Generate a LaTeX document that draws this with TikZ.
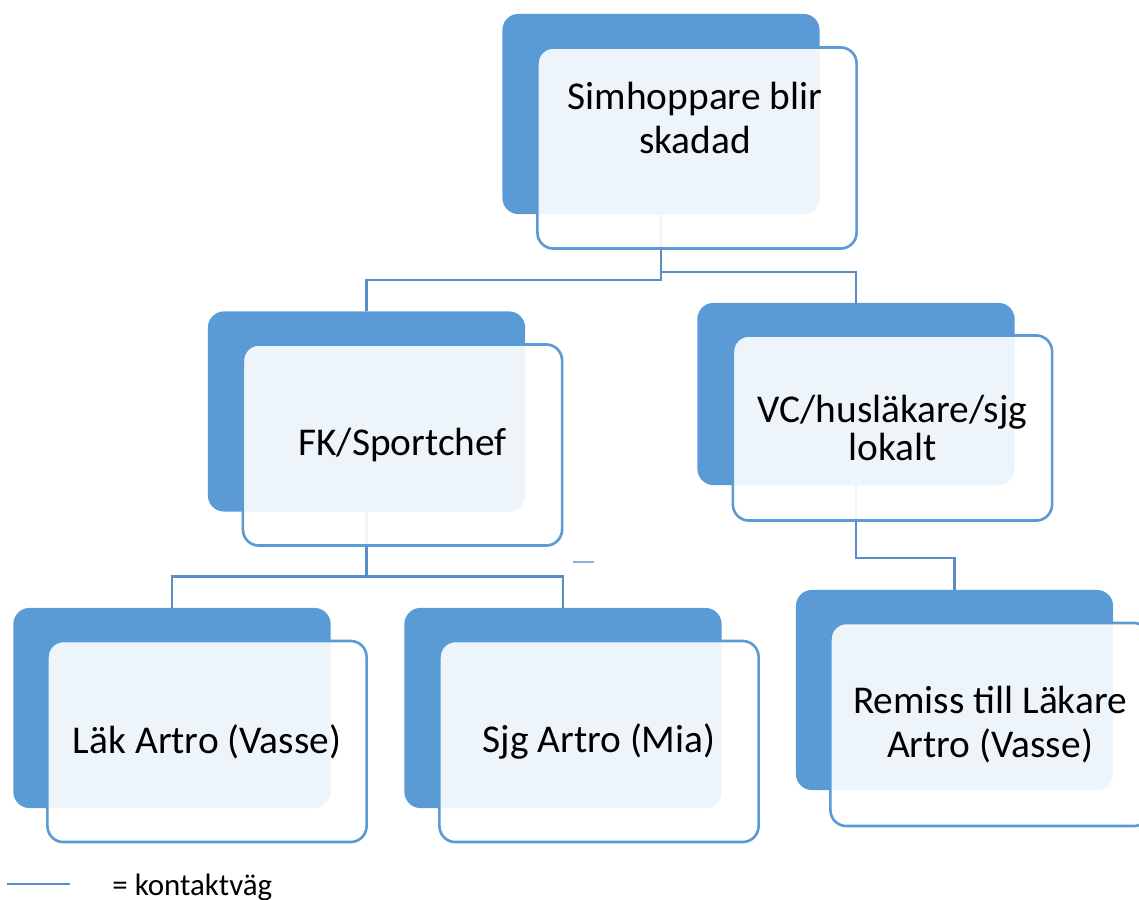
\documentclass[tikz,border=0pt]{standalone}
\usepackage{fontspec}
\setmainfont{Carlito}
\usetikzlibrary{positioning, calc}
\definecolor{boxblue}{HTML}{5B9BD5}
\definecolor{wireblue}{HTML}{5A8DC8}
\tikzstyle{back} = [rectangle, rounded corners=0.16cm, fill=boxblue, minimum width=3.17cm, minimum height=2cm, inner sep=0pt, outer sep=0pt]
\tikzstyle{front} = [rectangle, rounded corners=0.16cm, draw=boxblue, line width=0.75pt, fill=white, fill opacity=0.9, text opacity=1, minimum width=3.19cm, minimum height=2.01cm, align=center, inner sep=0pt, font=\fontsize{11.2}{12.5}\selectfont]
\tikzstyle{txt} = [align=center, font=\fontsize{11.2}{12.3}\selectfont]
\tikzstyle{wire} = [draw=wireblue, line width=0.7pt]

\begin{document}
\begin{tikzpicture}[x=0.01cm, y=-0.01cm]
  \useasboundingbox (0,0) rectangle (1139,900);
  \clip (0,0) rectangle (1139,900);
  % back boxes
  \node[back] (top) at (661,114) {};
  \node[back] (fk) at (366.5,411.5) {};
  \node[back, minimum height=1.82cm] (vc) at (856,394) {};
  \node[back] (lak) at (172,708) {};
  \node[back] (sjg) at (563,708) {};
  \node[back] (rem) at (954.5,690) {};
  % contact paths
  \draw[wire] (top.south) -- ++(0,66) -| (fk.north);
  \draw[wire] (top.south) -- ++(0,58) -| (vc.north);
  \draw[wire] (fk.south) -- ++(0,65) -| (lak.north);
  \draw[wire] (fk.south) -- ++(0,65) -| (sjg.north);
  \draw[wire] (vc.south) -- ++(0,73) -| (rem.north);
  \draw[wireblue!70, line width=0.7pt] (573,562) -- (594,562);
  % front boxes
  \node[front] (topf) at ($(top)+(36,34)$) {};
  \node[txt] (toptxt) at ($(topf)+(-2,-30)$) {Simhoppare blir\\skadad};
  \node[front] (fkf) at ($(fk)+(36,33.5)$) {FK/Sportchef};
  \node[front, minimum height=1.85cm, font=\fontsize{11.2}{10.8}\selectfont] (vcf) at ($(vc)+(36.5,34)$) {VC/husläkare/sjg\\lokalt};
  \node[front] (lakf) at ($(lak)+(35,33.5)$) {Läk Artro (Vasse)};
  \node[front] (sjgf) at ($(sjg)+(36,33.5)$) {Sjg Artro (Mia)};
  \node[front, minimum height=2.03cm] (remf) at ($(rem)+(35.5,34.5)$) {Remiss till Läkare\\Artro (Vasse)};
  % legend
  \coordinate (lgA) at (7,884);
  \coordinate (lgB) at (70,884);
  \draw[wire] (lgA) -- (lgB);
  \node[txt, anchor=west, font=\fontsize{8.8}{10}\selectfont] (lgtxt) at (100,887) {= kontaktväg};
\end{tikzpicture}
\end{document}
